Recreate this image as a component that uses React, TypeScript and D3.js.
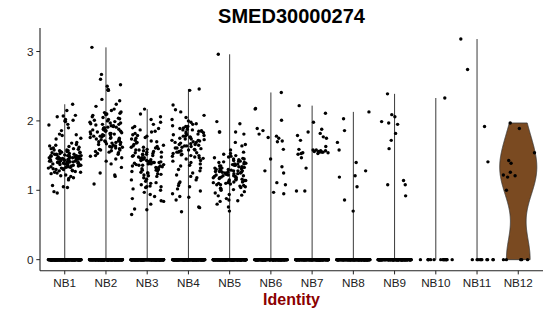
import React from "react";
import * as d3 from "d3";

const categories = ["NB1", "NB2", "NB3", "NB4", "NB5", "NB6", "NB7", "NB8", "NB9", "NB10", "NB11", "NB12"];
const yTicks = [0, 1, 2, 3];
const title = "SMED30000274";
const xLabel = "Identity";

// number of cells with zero expression in each identity
const zeroCounts = [260, 260, 250, 250, 250, 200, 200, 190, 160, 16, 10, 5];

const nb1 = [2.24, 2.15, 2.07, 2.06, 2.08, 2.01, 2.0, 2.02, 1.99, 1.94, 1.95, 1.9, 1.86, 1.8, 1.81, 1.79, 1.74, 1.75, 1.68, 1.69, 1.66, 1.64, 1.63, 1.62, 1.65, 1.6, 1.61, 1.59, 1.58, 1.57, 1.58, 1.56, 1.55, 1.56, 1.54, 1.53, 1.55, 1.52, 1.51, 1.52, 1.5, 1.49, 1.5, 1.51, 1.48, 1.47, 1.49, 1.46, 1.45, 1.47, 1.44, 1.46, 1.43, 1.42, 1.45, 1.41, 1.4, 1.42, 1.39, 1.38, 1.4, 1.37, 1.36, 1.38, 1.35, 1.34, 1.36, 1.33, 1.32, 1.34, 1.31, 1.3, 1.32, 1.29, 1.28, 1.3, 1.27, 1.26, 1.25, 1.24, 1.22, 1.21, 1.2, 1.18, 1.17, 1.15, 1.07, 1.05, 1.04, 0.98, 0.96, 1.48, 1.44, 1.41, 1.47, 1.53, 1.43, 1.39, 1.46, 1.5, 1.42, 1.37, 1.45, 1.52, 1.4, 1.48, 1.36, 1.44, 1.33, 1.49, 1.41, 1.38, 1.46, 1.43, 1.54, 1.35, 1.47, 1.42, 1.39, 1.45, 1.31, 1.5, 1.44, 1.28, 1.57, 1.41, 1.36, 1.48, 1.26, 1.6, 1.43];
const nb2 = [3.06, 2.67, 2.6, 2.52, 2.5, 2.45, 2.45, 2.44, 2.44, 2.31, 2.29, 2.24, 2.21, 2.17, 2.15, 2.13, 2.12, 2.11, 2.1, 2.1, 2.09, 2.08, 2.06, 2.05, 2.04, 2.02, 2.01, 2.0, 1.99, 1.98, 1.97, 1.96, 1.95, 1.94, 1.93, 1.92, 1.91, 1.9, 1.9, 1.89, 1.88, 1.87, 1.86, 1.85, 1.85, 1.84, 1.83, 1.82, 1.81, 1.8, 1.8, 1.79, 1.78, 1.77, 1.76, 1.75, 1.75, 1.74, 1.73, 1.72, 1.71, 1.7, 1.7, 1.69, 1.68, 1.67, 1.66, 1.65, 1.64, 1.63, 1.62, 1.61, 1.6, 1.59, 1.58, 1.57, 1.56, 1.55, 1.54, 1.53, 1.52, 1.5, 1.49, 1.47, 1.45, 1.42, 1.38, 1.33, 1.25, 1.22, 1.2, 1.09, 1.93, 1.87, 1.82, 1.76, 1.71, 1.66, 1.97, 1.84, 1.78, 1.73, 1.88, 1.62, 2.03, 1.91, 1.69, 1.58, 1.95, 1.81];
const nb3 = [2.17, 2.1, 2.06, 2.02, 1.98, 1.95, 1.92, 1.89, 1.9, 1.87, 1.85, 1.84, 1.82, 1.8, 1.79, 1.78, 1.76, 1.75, 1.74, 1.72, 1.71, 1.7, 1.69, 1.68, 1.66, 1.65, 1.64, 1.63, 1.62, 1.61, 1.6, 1.59, 1.58, 1.57, 1.56, 1.55, 1.54, 1.53, 1.52, 1.51, 1.5, 1.5, 1.49, 1.48, 1.47, 1.46, 1.45, 1.45, 1.44, 1.43, 1.42, 1.42, 1.41, 1.4, 1.4, 1.39, 1.38, 1.38, 1.37, 1.36, 1.35, 1.35, 1.34, 1.33, 1.32, 1.31, 1.3, 1.29, 1.28, 1.27, 1.26, 1.25, 1.24, 1.23, 1.22, 1.21, 1.2, 1.18, 1.16, 1.15, 1.13, 1.11, 1.1, 1.08, 1.06, 1.05, 1.05, 1.04, 1.02, 1.0, 0.97, 0.94, 0.91, 0.88, 0.85, 0.84, 0.8, 0.73, 0.72, 0.65, 1.44, 1.37, 1.41, 1.47, 1.33, 1.52, 1.39, 1.29, 1.58, 1.43, 1.36, 1.48, 1.62, 1.25, 1.55, 1.4];
const nb4 = [2.46, 2.44, 2.23, 2.16, 2.13, 2.08, 2.05, 2.02, 2.0, 1.98, 1.96, 1.95, 1.93, 1.92, 1.9, 1.89, 1.88, 1.87, 1.86, 1.85, 1.84, 1.83, 1.82, 1.81, 1.8, 1.79, 1.78, 1.77, 1.76, 1.75, 1.74, 1.73, 1.72, 1.71, 1.7, 1.69, 1.68, 1.67, 1.66, 1.65, 1.64, 1.63, 1.62, 1.61, 1.6, 1.59, 1.58, 1.57, 1.56, 1.55, 1.54, 1.53, 1.52, 1.51, 1.5, 1.49, 1.48, 1.47, 1.46, 1.45, 1.43, 1.42, 1.4, 1.38, 1.36, 1.35, 1.32, 1.3, 1.28, 1.25, 1.22, 1.2, 1.18, 1.15, 1.12, 1.1, 1.07, 1.05, 1.02, 0.99, 0.95, 0.91, 0.9, 0.86, 0.76, 0.75, 0.69, 1.72, 1.64, 1.85, 1.58, 1.78, 1.69, 1.55, 1.8, 1.66, 1.92, 1.61, 1.74, 1.5, 1.87];
const nb5 = [2.96, 1.99, 1.96, 1.84, 1.84, 1.84, 1.81, 1.69, 1.66, 1.64, 1.58, 1.55, 1.53, 1.52, 1.5, 1.49, 1.48, 1.47, 1.46, 1.45, 1.45, 1.44, 1.43, 1.42, 1.42, 1.41, 1.4, 1.4, 1.39, 1.38, 1.38, 1.37, 1.36, 1.36, 1.35, 1.34, 1.34, 1.33, 1.32, 1.32, 1.31, 1.3, 1.3, 1.29, 1.28, 1.28, 1.27, 1.26, 1.26, 1.25, 1.25, 1.24, 1.23, 1.23, 1.22, 1.21, 1.21, 1.2, 1.2, 1.19, 1.18, 1.18, 1.17, 1.16, 1.16, 1.15, 1.14, 1.14, 1.13, 1.12, 1.12, 1.11, 1.1, 1.1, 1.09, 1.08, 1.07, 1.06, 1.05, 1.04, 1.03, 1.02, 1.01, 1.0, 0.98, 0.96, 0.94, 0.93, 0.92, 0.88, 0.86, 0.85, 0.84, 0.8, 0.76, 0.7, 1.27, 1.19, 1.33, 1.24, 1.15, 1.29, 1.21, 1.35, 1.11, 1.26, 1.18, 1.31, 1.22, 1.38, 1.08, 1.28];
const nb6 = [2.41, 2.18, 2.17, 2.01, 1.89, 1.86, 1.81, 1.78, 1.76, 1.75, 1.71, 1.7, 1.59, 1.45, 1.34, 1.28, 1.25, 1.11, 1.08, 0.97, 0.95];
const nb7 = [2.22, 2.11, 1.98, 1.88, 1.84, 1.82, 1.79, 1.77, 1.75, 1.72, 1.63, 1.59, 1.58, 1.57, 1.56, 1.56, 1.55, 1.55, 1.54, 1.54, 1.53, 1.53, 1.52, 1.58, 1.57, 1.55, 1.47, 1.32, 0.99, 0.99];
const nb8 = [2.13, 2.03, 1.86, 1.69, 1.58, 1.4, 1.28, 1.21, 1.19, 1.05, 0.86, 0.7];
const nb9 = [2.39, 2.09, 2.06, 1.99, 1.95, 1.97, 1.82, 1.72, 1.6, 1.14, 1.08, 1.08, 0.92];
const nb10 = [2.33];
const nb11 = [3.18, 2.74, 1.92, 1.41];
const nb12 = [1.97, 1.89, 1.54, 1.43, 1.39, 1.26, 1.22, 1.21, 1.19, 1.0];

const nonZero = [nb1, nb2, nb3, nb4, nb5, nb6, nb7, nb8, nb9, nb10, nb11, nb12];
const violinFill = "#7a4a21";
const filledViolins = ["NB12"];

const W = 550;
const H = 316;
const left = 40;
const right = 543;
const top = 28;
const bottom = 270.7;
const FONT = "'Liberation Sans', Arial, Helvetica, sans-serif";

function nrd0(x: number[]) {
  const sd = d3.deviation(x) || 0;
  const s = x.slice().sort(d3.ascending);
  const iqr = (d3.quantileSorted(s, 0.75) || 0) - (d3.quantileSorted(s, 0.25) || 0);
  let lo = Math.min(sd, iqr / 1.34);
  if (!lo) lo = sd || Math.abs(s[0]) || 1;
  return 0.9 * lo * Math.pow(x.length, -0.2);
}

// deterministic horizontal spread (jitter) for point positions
function spread(gi: number, i: number) {
  const s = Math.sin((i + 1) * 12.9898 + (gi + 1) * 78.233) * 43758.5453;
  return s - Math.floor(s);
}

export default function App() {
  const groups = categories.map((c, gi) => {
    const vals = nonZero[gi].concat(d3.range(zeroCounts[gi]).map(() => 0));
    return { name: c, vals };
  });
  const allMax = d3.max(groups, (g) => d3.max(g.vals)) as number;
  const allMin = 0;
  const pad = (allMax - allMin) * 0.05;

  const x = d3.scalePoint<string>().domain(categories).range([left, right]).padding(0.6);
  const step = x.step();
  const y = d3.scaleLinear().domain([allMin - pad, allMax + pad]).range([bottom, top]);

  const jitterW = 0.4 * step;
  const jitter = (gi: number, i: number) => (spread(gi, i) * 2 - 1) * jitterW;

  const violins = groups.map((g, gi) => {
    const cx = x(g.name) as number;
    const gmax = d3.max(g.vals) as number;
    const gmin = d3.min(g.vals) as number;
    if (!filledViolins.includes(g.name)) {
      return (
        <line key={"v" + gi} x1={cx} x2={cx} y1={y(gmin)} y2={y(gmax)} stroke="#3a3a3a" strokeWidth={1} />
      );
    }
    const bw = nrd0(g.vals);
    const n = 256;
    const pts = d3.range(n).map((k) => {
      const v = gmin + ((gmax - gmin) * k) / (n - 1);
      const dens = d3.sum(g.vals, (d) => Math.exp(-0.5 * ((v - d) / bw) ** 2)) / (g.vals.length * bw * Math.sqrt(2 * Math.PI));
      return { v, dens };
    });
    const dmax = d3.max(pts, (p) => p.dens) as number;
    const half = 0.45 * step;
    const area = d3
      .area<{ v: number; dens: number }>()
      .y((p) => y(p.v))
      .x0((p) => cx - (p.dens / dmax) * half)
      .x1((p) => cx + (p.dens / dmax) * half)
      .curve(d3.curveLinear);
    return <path key={"v" + gi} d={area(pts) || ""} fill={violinFill} stroke="#333" strokeWidth={0.8} />;
  });

  const points = groups.flatMap((g, gi) => {
    const cx = x(g.name) as number;
    return g.vals.map((v, i) => (
      <circle key={gi + "-" + i} cx={cx + jitter(gi, i)} cy={y(v)} r={1.7} fill="#000" />
    ));
  });

  return (
    <div style={{ position: "absolute", left: 0, top: 0 }}>
      <svg width={W} height={H} style={{ display: "block", background: "#fff" }}>
        <text x={(left + right) / 2} y={22.7} textAnchor="middle" fontFamily={FONT} fontWeight="bold" fontSize={20} fill="#000">
          {title}
        </text>
        {violins}
        {points}
        <line x1={left} x2={left} y1={top} y2={bottom} stroke="#222" strokeWidth={1.1} />
        <line x1={left} x2={right} y1={bottom} y2={bottom} stroke="#222" strokeWidth={1.1} />
        {yTicks.map((t) => (
          <g key={"yt" + t}>
            <line x1={left - 3.7} x2={left} y1={y(t)} y2={y(t)} stroke="#222" strokeWidth={1} />
            <text x={left - 6.5} y={y(t) + 4.2} textAnchor="end" fontFamily={FONT} fontSize={11.7} fill="#222">
              {t}
            </text>
          </g>
        ))}
        {categories.map((c) => (
          <g key={"xt" + c}>
            <line x1={x(c)} x2={x(c)} y1={bottom} y2={bottom + 3.7} stroke="#222" strokeWidth={1} />
            <text x={x(c)} y={286.7} textAnchor="middle" fontFamily={FONT} fontSize={11.7} fill="#222">
              {c}
            </text>
          </g>
        ))}
        <text x={(left + right) / 2} y={305} textAnchor="middle" fontFamily={FONT} fontWeight="bold" fontSize={16} fill="#8b0000">
          {xLabel}
        </text>
      </svg>
    </div>
  );
}
